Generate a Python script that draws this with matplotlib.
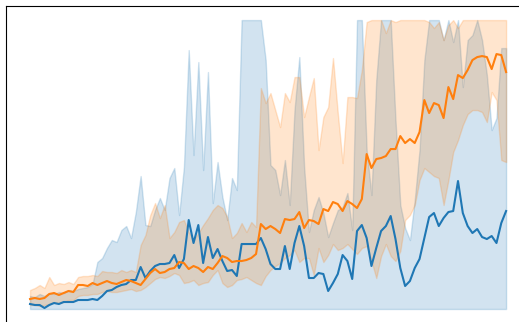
import numpy as np
import matplotlib
matplotlib.use("Agg")
from matplotlib import pyplot as plt

# episodes (100 evaluation points), scores clipped to [FLOOR, CEIL]
FLOOR = 0
CEIL = 289
steps = np.arange(100)

# run A (blue): mean score and upper edge of the spread band
blue_mean = [5, 4, 4, 1, 4, 6, 5, 7, 7, 7,
             9, 9, 9, 10, 9, 13, 18, 19, 22, 24,
             25, 29, 29, 42, 31, 38, 43, 45, 45, 46,
             54, 41, 50, 89, 66, 84, 46, 72, 51, 60,
             48, 38, 39, 33, 65, 65, 65, 65, 71, 60,
             45, 40, 40, 63, 40, 66, 83, 63, 31, 31,
             36, 35, 18, 26, 35, 54, 48, 30, 78, 84,
             71, 43, 61, 78, 83, 93, 70, 41, 23, 28,
             41, 50, 71, 92, 96, 83, 91, 97, 98, 128,
             96, 83, 76, 80, 72, 70, 73, 66, 86, 98]
blue_hi = [13, 12, 15, 13, 16, 15, 17, 16, 19, 18,
           20, 21, 22, 25, 47, 51, 61, 69, 67, 79,
           83, 71, 97, 133, 84, 83, 99, 111, 99, 131,
           141, 94, 142, 259, 154, 247, 139, 237, 106, 147,
           112, 89, 131, 119, 289, 289, 289, 289, 289, 249,
           144, 139, 114, 149, 104, 199, 252, 142, 77, 99,
           112, 96, 72, 86, 99, 102, 116, 79, 289, 289,
           159, 114, 229, 289, 289, 289, 189, 104, 81, 69,
           109, 159, 249, 289, 289, 289, 269, 289, 267, 289,
           222, 269, 274, 289, 269, 234, 179, 191, 261, 261]

# run B (orange): mean score with lower / upper edge of the band
orange_mean = [10, 11, 10, 11, 15, 16, 14, 16, 18, 17,
               24, 24, 23, 26, 24, 26, 28, 26, 25, 27,
               29, 28, 26, 24, 30, 36, 40, 36, 37, 40,
               41, 47, 46, 40, 43, 41, 37, 42, 40, 46,
               53, 51, 47, 48, 48, 49, 51, 55, 85, 80,
               83, 80, 76, 90, 89, 90, 97, 81, 89, 88,
               85, 100, 98, 107, 105, 98, 108, 105, 101, 110,
               155, 141, 150, 151, 153, 160, 160, 173, 166, 170,
               166, 177, 209, 196, 206, 204, 191, 222, 210, 234,
               231, 239, 249, 252, 253, 252, 240, 255, 254, 237]
orange_lo = [4, 4, 3, 4, 5, 7, 6, 7, 9, 9,
             13, 14, 14, 15, 15, 17, 18, 17, 17, 18,
             19, 20, 18, 19, 22, 26, 30, 32, 31, 33,
             36, 34, 26, 27, 29, 24, 26, 27, 34, 39,
             26, 22, 24, 29, 30, 32, 29, 26, 24, 33,
             39, 43, 46, 51, 54, 59, 47, 51, 51, 34,
             61, 47, 54, 65, 59, 61, 65, 60, 55, 61,
             63, 48, 31, 53, 65, 53, 48, 58, 89, 94,
             104, 129, 141, 137, 133, 131, 104, 129, 157, 169,
             184, 195, 199, 199, 197, 187, 217, 209, 149, 147]
orange_hi = [19, 21, 24, 21, 32, 24, 26, 25, 27, 25,
             32, 33, 33, 34, 33, 38, 37, 37, 36, 39,
             37, 39, 37, 64, 74, 94, 106, 91, 104, 71,
             77, 87, 89, 77, 69, 76, 84, 91, 99, 104,
             101, 92, 71, 76, 86, 77, 87, 82, 221, 206,
             216, 199, 182, 216, 207, 232, 232, 192, 212, 231,
             159, 192, 202, 251, 196, 146, 212, 212, 211, 239,
             287, 289, 289, 289, 276, 289, 287, 289, 289, 289,
             289, 289, 289, 287, 281, 287, 269, 284, 289, 281,
             289, 289, 289, 289, 289, 289, 289, 289, 289, 289]

fig = plt.figure(figsize=(5.19, 3.22), dpi=100)
ax = fig.add_axes([0.012, -0.0045, 1.009, 0.987])

ax.fill_between(steps, FLOOR, blue_hi, color="C0", alpha=0.2)
ax.fill_between(steps, orange_lo, orange_hi, color="C1", alpha=0.2)
ax.plot(steps, blue_mean, color="C0")
ax.plot(steps, orange_mean, color="C1")

ax.set_xticks([])
ax.set_yticks([])
# only the left and top frame lines fall inside the picture
ax.spines['bottom'].set_visible(False)
ax.spines['right'].set_visible(False)

fig.savefig("out.png", dpi=100)
